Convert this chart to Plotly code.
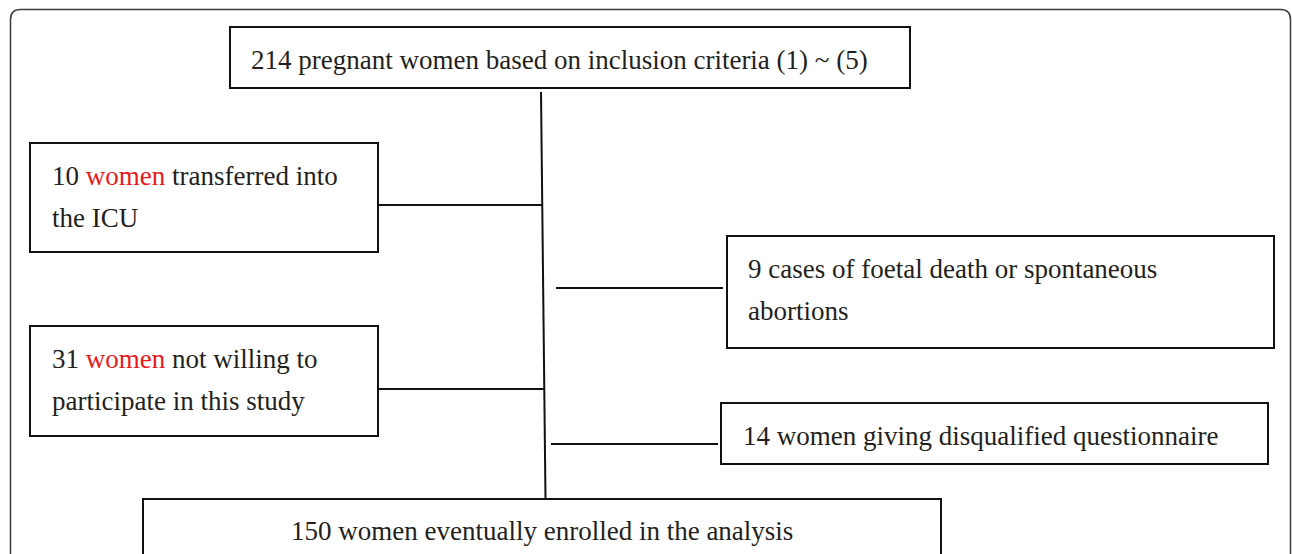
import plotly.graph_objects as go

# ---- content (flow chart counts and texts) ----
counts = [214, 10, 9, 31, 14, 150]
prefix_lines = [
    ["{} pregnant women based on inclusion criteria (1) ~ (5)"],
    ["{} <span style='color:#e8191d'>women</span> transferred into", "the ICU"],
    ["{} cases of foetal death or spontaneous", "abortions"],
    ["{} <span style='color:#e8191d'>women</span> not willing to", "participate in this study"],
    ["{} women giving disqualified questionnaire"],
    ["{} women eventually enrolled in the analysis"],
]

# ---- layout geometry (pixels, y downward) ----
boxes = [  # x0, y0, x1, y1
    (230, 27, 910, 88),
    (30, 143, 378, 252),
    (727, 236, 1274, 348),
    (30, 326, 378, 436),
    (721, 403, 1268, 464),
    (143, 499, 941, 600),
]
text_pos = [  # x, first line y, anchor
    (249, 60, "left"),
    (50, 176, "left"),
    (746, 269, "left"),
    (50, 359, "left"),
    (741, 436, "left"),
    (542, 531, "center"),
]
line_gap = 42
connectors = [  # x0, y0, x1, y1
    (541, 92, 545.5, 499),
    (378, 205, 542, 205),
    (556, 288, 723, 288),
    (378, 389, 544, 389),
    (551, 444, 718, 444),
]

W, H = 1292, 554
fig = go.Figure()
shapes = []

# outer rounded frame
r = 10
L, T, R, B = 10.5, 9.5, 1290.5, 570
frame = (f"M {L},{B} L {L},{T+r} Q {L},{T} {L+r},{T} L {R-r},{T} "
         f"Q {R},{T} {R},{T+r} L {R},{B}")
shapes.append(dict(type="path", path=frame, xref="x", yref="y",
                   line=dict(color="#3c3c3c", width=1.5)))

for (x0, y0, x1, y1) in boxes:
    shapes.append(dict(type="rect", x0=x0, y0=y0, x1=x1, y1=y1, xref="x", yref="y",
                       line=dict(color="#111111", width=2), fillcolor="rgba(0,0,0,0)"))
for (x0, y0, x1, y1) in connectors:
    shapes.append(dict(type="line", x0=x0, y0=y0, x1=x1, y1=y1, xref="x", yref="y",
                       line=dict(color="#111111", width=2)))

annotations = []
for n, lines, (tx, ty, anc) in zip(counts, prefix_lines, text_pos):
    for i, ln in enumerate(lines):
        txt = ln.format(n) if i == 0 else ln
        annotations.append(dict(x=tx, y=ty + i * line_gap, xref="x", yref="y",
                                text=txt, showarrow=False, xanchor=anc, yanchor="middle",
                                font=dict(family="Liberation Serif, Times New Roman, serif",
                                          size=27, color="#231f20")))

fig.update_layout(
    width=W, height=H, margin=dict(l=0, r=0, t=0, b=0),
    paper_bgcolor="white", plot_bgcolor="white",
    xaxis=dict(range=[0, W], visible=False, fixedrange=True),
    yaxis=dict(range=[H, 0], visible=False, fixedrange=True),
    shapes=shapes, annotations=annotations, showlegend=False,
)
fig.write_html("out.html",
               config={"displayModeBar": False},
               post_script="document.body.style.margin='0';document.body.style.overflow='hidden';")
